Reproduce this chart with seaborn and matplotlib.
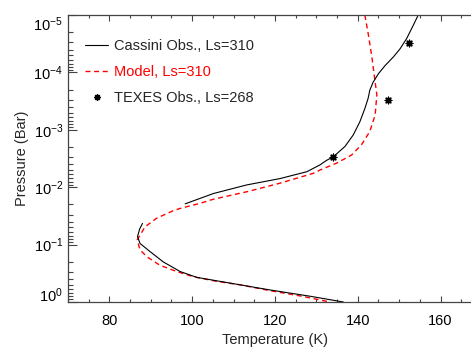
import numpy as np
import pandas as pd
import matplotlib
matplotlib.use("Agg")
import matplotlib.pyplot as plt
from matplotlib.lines import Line2D
from matplotlib.ticker import MultipleLocator, LogLocator, NullFormatter
import seaborn as sns

# ---------------- data ----------------
# Cassini observations (Ls=310): two segments
cassini_seg1_T = [154.6, 153.4, 151.8, 150.2, 148.6, 146.6, 145.0, 143.7, 142.9, 142.5, 141.7,
                  140.5, 138.9, 136.9, 134.1, 132.5, 130.9, 127.7, 121.2, 113.2, 105.1, 98.3]
cassini_seg1_P = [1.0e-5, 1.51e-5, 2.57e-5, 3.89e-5, 5.37e-5, 7.59e-5, 1.05e-4, 1.48e-4, 2.04e-4, 2.82e-4, 4.27e-4,
                  7.24e-4, 1.23e-3, 1.95e-3, 2.95e-3, 3.39e-3, 4.07e-3, 5.37e-3, 7.08e-3, 9.12e-3, 1.29e-2, 1.95e-2]
cassini_seg2_T = [88.0, 87.3, 86.8, 87.4, 89.8, 93.0, 97.1, 101.1, 105.9, 111.5, 118.8, 128.5, 136.5]
cassini_seg2_P = [4.27e-2, 5.37e-2, 7.24e-2, 9.55e-2, 0.132, 0.200, 0.295, 0.372, 0.427, 0.501, 0.617, 0.794, 1.0]

# Model (Ls=310)
model_T = [141.7, 142.5, 143.4, 144.0, 144.6, 144.2, 142.9, 140.9, 138.5, 134.9, 130.9, 129.2,
           121.2, 113.2, 105.1, 101.9, 97.1, 95.4, 91.4, 88.6, 86.7, 87.4, 89.0, 92.2, 96.3,
           100.3, 105.9, 111.5, 118.6, 126.5, 133.3]
model_P = [1.0e-5, 2.09e-5, 5.37e-5, 1.17e-4, 2.45e-4, 5.50e-4, 1.07e-3, 1.82e-3, 2.75e-3, 3.80e-3, 5.01e-3, 5.75e-3,
           8.51e-3, 1.20e-2, 1.62e-2, 1.91e-2, 2.34e-2, 2.57e-2, 3.47e-2, 4.90e-2, 8.32e-2, 0.123, 0.162, 0.229, 0.295,
           0.363, 0.437, 0.501, 0.631, 0.794, 1.0]

# TEXES observations (Ls=268)
texes_T = [152.4, 147.4, 133.9]
texes_P = [3.02e-5, 3.02e-4, 2.95e-3]

legend_labels = ["Cassini Obs., Ls=310", "Model, Ls=310", "TEXES Obs., Ls=268"]
xtick_vals = [80, 100, 120, 140, 160]
ytick_vals = [1e-5, 1e-4, 1e-3, 1e-2, 1e-1, 1.0]
ytick_labels = [r"$\mathdefault{10^{-5}}$", r"$\mathdefault{10^{-4}}$", r"$\mathdefault{10^{-3}}$",
                r"$\mathdefault{10^{-2}}$", r"$\mathdefault{10^{-1}}$", r"$\mathdefault{10^{0}}$"]

# ---------------- style ----------------
sns.set_style("ticks")
plt.rcParams["font.family"] = ["Liberation Sans", "DejaVu Sans"]
plt.rcParams["mathtext.fontset"] = "custom"
plt.rcParams["mathtext.rm"] = "Liberation Sans"
plt.rcParams["mathtext.it"] = "Liberation Sans:italic"
plt.rcParams["mathtext.bf"] = "Liberation Sans:bold"
plt.rcParams["font.size"] = 10.5

FS = 10.5
spine_c = "#444444"

fig = plt.figure(figsize=(4.71, 3.51), dpi=100)
ax = fig.add_axes([68 / 471, 49 / 351, 414 / 471, 287 / 351])

cas = pd.DataFrame({
    "T": cassini_seg1_T + cassini_seg2_T,
    "P": cassini_seg1_P + cassini_seg2_P,
    "seg": [0] * len(cassini_seg1_T) + [1] * len(cassini_seg2_T),
})
mod = pd.DataFrame({"T": model_T, "P": model_P, "seg": 0})
tex = pd.DataFrame({"T": texes_T, "P": texes_P})

sns.lineplot(data=mod, x="T", y="P", units="seg", estimator=None, sort=False,
             color="#ff0000", lw=1.0, dashes=False, ax=ax, legend=False)
ax.lines[-1].set_dashes([3.6, 2.6])
sns.lineplot(data=cas, x="T", y="P", units="seg", estimator=None, sort=False,
             color="black", lw=0.8, ax=ax, legend=False)
sns.scatterplot(data=tex, x="T", y="P", marker=(8, 2, 0), s=22, color="black",
                linewidth=1.0, ax=ax, legend=False)

ax.set_yscale("log")
ax.set_xlim(70, 170)
ax.set_ylim(1.0, 1e-5)

ax.set_xticks(xtick_vals)
ax.xaxis.set_minor_locator(MultipleLocator(5))
ax.set_yticks(ytick_vals)
ax.set_yticklabels(ytick_labels)
ax.yaxis.set_minor_locator(LogLocator(base=10, subs=np.arange(2, 10)))
ax.yaxis.set_minor_formatter(NullFormatter())
ylabs = ax.get_yticklabels()
ylabs[0].set_va("top")
ylabs[-1].set_va("baseline")

ax.tick_params(axis="both", which="both", direction="in", top=True, right=True,
               color=spine_c, labelcolor="black", labelsize=FS, width=0.8)
ax.tick_params(axis="x", which="major", length=4.5, pad=8.5)
ax.tick_params(axis="x", which="minor", length=2.5)
ax.tick_params(axis="y", which="major", length=6.5, pad=3.5)
ax.tick_params(axis="y", which="minor", length=3.5)
for s in ax.spines.values():
    s.set_color(spine_c)
    s.set_linewidth(0.9)

ax.set_xlabel("Temperature (K)", fontsize=FS, labelpad=4)
ax.set_ylabel("Pressure (Bar)", fontsize=FS, labelpad=3)

handles = [
    Line2D([], [], color="black", lw=0.8),
    Line2D([], [], color="#ff0000", lw=1.0, dashes=[3.6, 2.6]),
    Line2D([], [], color="black", lw=0, marker=(8, 2, 0), markersize=4.6, markeredgewidth=1.0),
]
leg = ax.legend(handles, legend_labels, loc="upper left", bbox_to_anchor=(0.041, 0.915),
                frameon=False, fontsize=FS, handlelength=1.6, handletextpad=0.42,
                labelspacing=0.8, borderpad=0, borderaxespad=0)
leg.get_texts()[1].set_color("#ff0000")

fig.savefig("out.png", dpi=100)
